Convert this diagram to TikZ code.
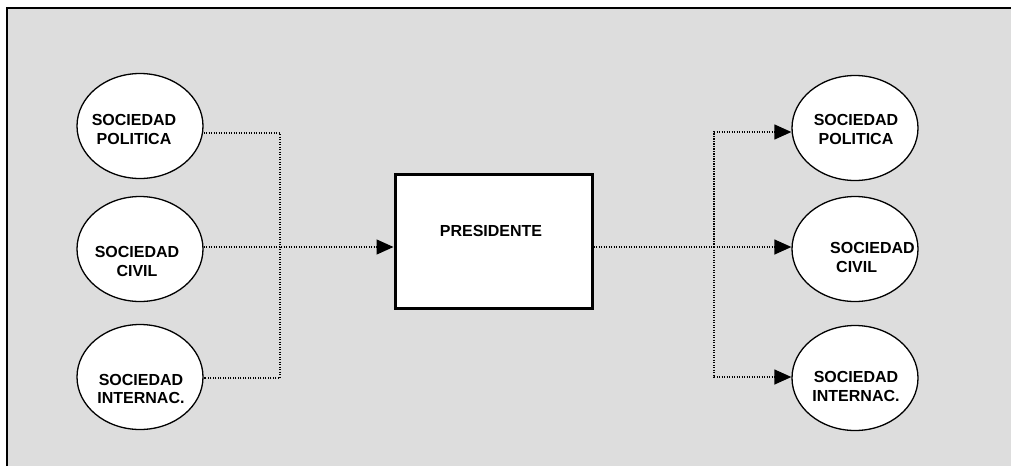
\documentclass[tikz,border=0pt]{standalone}
\usepackage{fontspec}
\setmainfont{Liberation Sans}
\usetikzlibrary{shapes.geometric,arrows.meta}
\definecolor{bggray}{HTML}{DDDDDD}
\begin{document}
\begin{tikzpicture}[x=1pt,y=-1pt,
  soc/.style={draw,line width=1.3pt,fill=white,ellipse,minimum width=126pt,minimum height=105pt,inner sep=0pt},
  lbl/.style={font=\fontsize{16}{18.5}\selectfont\bfseries,align=center,inner sep=0pt},
  conn/.style={line width=1.3pt,dash pattern=on 1.2pt off 1.3pt},
  tip/.style={-{Triangle[length=17pt,width=15pt]}}
]
\useasboundingbox (0,0) rectangle (1011,466);
\fill[white] (0,0) rectangle (1011,466);
\fill[bggray] (7,8) rectangle (1011,466);
\draw[line width=2pt] (7,466) -- (7,8) -- (1011,8);
% left ellipses
\node[soc] (lp) at (140,126) {};
\node[soc] (lc) at (140,249) {};
\node[soc] (li) at (140,377) {};
\node[lbl] (lpt) at (134,129.5) {SOCIEDAD\\POLITICA};
\node[lbl] (lct) at (137,261.5) {SOCIEDAD\\CIVIL};
\node[lbl] (lit) at (141,389) {SOCIEDAD\\INTERNAC.};
% box
\node[draw,line width=3pt,fill=white,minimum width=197pt,minimum height=134pt,inner sep=0pt] (pres) at (493.5,241) {};
\node[lbl] (prest) at (491,231) {PRESIDENTE};
% right ellipses
\node[soc] (rp) at (855,128) {};
\node[soc] (rc) at (855,249) {};
\node[soc] (ri) at (855,378) {};
\node[lbl] (rpt) at (856,129.5) {SOCIEDAD\\POLITICA};
\node[lbl,align=left,anchor=west] (rct) at (830,257.5) {SOCIEDAD\\\hspace*{6pt}CIVIL};
\node[lbl] (rit) at (856,386.5) {SOCIEDAD\\INTERNAC.};
% junctions
\coordinate (jl) at (280,247);
\coordinate (jr) at (714,247);
% left connectors
\draw[conn] (lp.east |- 0,133) -- (280,133) -- (280,378) -- (li.east |- 0,378);
\draw[conn,tip] (lc.east |- 0,247) -- (pres.west |- 0,247);
% right connectors
\draw[conn] (pres.east |- 0,247) -- (jr);
\draw[conn,tip] (jr) -- (rc.west |- 0,247);
\draw[conn,tip] (jr) -- (714,132) -- (rp.west |- 0,132);
\draw[conn,tip] (jr) -- (714,377) -- (ri.west |- 0,377);
\end{tikzpicture}
\end{document}
